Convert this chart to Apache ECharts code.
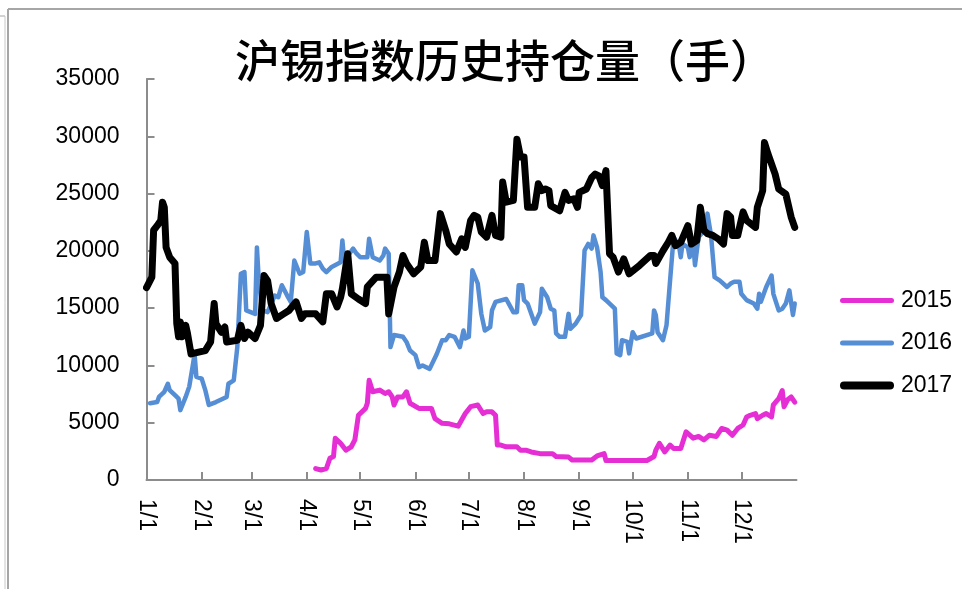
<!DOCTYPE html>
<html>
<head>
<meta charset="utf-8">
<script src="https://cdn.jsdelivr.net/npm/echarts@6/dist/echarts.min.js"></script>
<style>
  html, body { margin: 0; padding: 0; background: #fff; }
  #chart { width: 962px; height: 589px; }
</style>
</head>
<body>
<div id="chart"></div>
<script>
// day of year (1/1 = 0) and open interest
var monthStarts = [0, 31, 59, 90, 120, 151, 181, 212, 243, 273, 304, 334];
var monthLabels = ["1/1","2/1","3/1","4/1","5/1","6/1","7/1","8/1","9/1","10/1","11/1","12/1"];
var yTicks = [0, 5000, 10000, 15000, 20000, 25000, 30000, 35000];

var days2015 = [95,98,101,103,105,106,109,112,115,117,119,123,124,125,127,131,134,136,138,139,141,144,146,148,153,160,162,166,170,175,179,182,183,186,189,191,194,196,197,199,202,208,210,213,216,221,228,230,237,239,250,253,257,258,281,285,286,288,291,294,296,300,303,307,310,313,316,320,323,326,329,332,335,337,339,342,343,346,348,351,352,355,357,358,360,362,364];
var vals2015 = [1000,870,1000,1900,2050,3650,3200,2600,2900,3500,5650,6250,6700,8700,7700,7850,7550,7700,7250,6550,7250,7250,7700,6700,6250,6250,5350,4950,4900,4700,5800,6400,6550,6550,5800,5950,5950,5650,3050,3050,2900,2900,2600,2600,2450,2300,2300,2050,2000,1750,1750,2100,2300,1700,1700,2050,2600,3200,2450,3050,2750,2750,4200,3650,3800,3500,3900,3800,4500,4350,3900,4500,4800,5500,5650,5800,5350,5650,5800,5500,6550,7100,7800,6400,7000,7250,6800];

var days2016 = [2,6,7,10,12,13,16,18,19,22,24,26,27,28,31,33,35,39,45,46,49,51,53,55,56,61,62,63,65,68,72,74,76,79,81,83,86,88,90,92,95,97,99,101,104,109,110,111,116,118,120,124,125,127,131,133,134,136,137,139,140,144,146,148,151,153,155,159,163,166,168,170,173,176,178,179,181,183,186,188,190,193,194,196,197,202,206,208,209,211,212,214,218,221,222,225,227,229,230,232,235,237,238,241,244,246,248,250,251,253,255,256,258,263,264,266,267,270,271,273,275,284,285,286,287,290,292,293,294,296,299,300,301,304,305,307,308,310,314,315,317,319,322,326,328,330,333,334,337,341,343,344,345,348,351,352,355,357,359,361,363,364];
var vals2016 = [6700,6800,7250,7700,8400,7850,7400,7100,6100,7250,8150,10000,11000,9000,8850,7850,6550,6800,7250,8400,8700,11600,18000,18150,14800,14500,20300,17550,14800,14650,16100,15950,17000,16100,15550,19150,18000,18150,21650,18900,18900,19000,18450,18150,18600,19000,20900,19150,20200,19750,19450,19450,21050,19450,19150,19600,20200,19750,11600,12650,12500,12500,12050,11300,10900,9850,10000,9700,11000,12200,12200,12650,12500,11600,13050,12350,12500,18300,17150,14500,13050,13350,14800,15550,15700,15800,14650,14650,17000,17000,15700,15400,13650,14650,16700,15950,14950,14800,12800,12500,12500,14500,13200,13650,14400,20050,20600,20200,21350,20300,18150,15950,15700,14950,11050,10900,12200,12050,11050,12900,12350,12800,14800,14400,12900,12200,13500,13500,17400,21200,20450,19450,20600,20300,19450,20600,18750,21200,21900,23250,21350,17700,17400,16850,17150,17300,17300,16250,15700,15400,14950,16250,15550,16850,17850,16250,14800,14950,15400,16550,14400,15400];

var days2017 = [0,3,4,6,8,9,10,11,13,16,17,18,19,20,22,23,25,33,36,38,39,42,44,45,51,53,55,57,61,64,66,68,70,73,77,80,84,87,89,95,99,101,104,107,109,110,113,115,119,123,124,129,135,136,139,142,144,146,150,154,156,158,162,165,168,170,174,177,179,182,184,186,188,191,194,196,199,200,202,206,208,210,212,214,218,220,222,224,226,227,232,235,237,240,242,243,247,250,252,254,256,258,260,262,265,268,271,277,283,285,286,290,293,295,297,300,304,306,309,311,313,315,318,321,324,326,328,329,332,335,337,342,343,346,347,349,353,355,359,362,364];
var vals2017 = [16800,17700,21800,22200,22650,24250,23800,20300,19450,18900,13650,12500,13800,12500,13500,12800,11000,11300,12050,15400,13650,12900,13350,12050,12200,13500,12350,12900,12350,13500,17850,17400,15400,14100,14500,14800,15550,14100,14500,14500,13800,16250,16250,15100,15950,16700,19750,16250,15800,15400,16850,17700,17700,14500,16850,18150,19600,18900,18000,18600,20750,19150,19150,23250,21800,20600,19900,21050,20300,22650,23100,22950,21650,21200,23100,21350,21200,26000,24250,24400,29750,28200,28200,23800,23800,25850,25250,25400,25250,23950,23500,25100,24400,24550,23800,25100,25400,26400,26700,26550,25700,27000,19750,19450,18150,19300,18000,18750,19600,19600,18900,20000,20750,21350,20450,20750,22200,20600,20900,23800,21800,21500,21350,21050,20600,23250,22950,21350,21350,23400,22650,22050,23800,25250,29450,28450,26700,25400,24950,22950,22050];

function pairs(days, vals) {
    var out = [];
    for (var i = 0; i < days.length; i++) out.push([days[i], vals[i]]);
    return out;
}

// rounded bar used as the legend key, h = stroke thickness
function barIcon(h) {
    var r = h / 2;
    return "path://M" + r + ",0 L" + (54 - r) + ",0 A" + r + "," + r + " 0 0 1 " + (54 - r) + "," + h +
        " L" + r + "," + h + " A" + r + "," + r + " 0 0 1 " + r + ",0 Z";
}

var labelFont = "Liberation Sans";
var axisColor = "#8c8c8c";
var c2015 = "#e52fd4", c2016 = "#558ed5", c2017 = "#000000";

var chart = echarts.init(document.getElementById("chart"));

var option = {
    backgroundColor: "#fff",
    animation: false,
    title: {
        text: "沪锡指数历史持仓量（手）",
        left: 500,
        textAlign: "center",
        top: 33,
        textStyle: {
            fontFamily: "Noto Sans CJK SC",
            fontSize: 45,
            fontWeight: 500,
            color: "#000"
        }
    },
    graphic: [
        { type: "line", shape: { x1: 8, y1: 9, x2: 962, y2: 9 }, style: { stroke: "#a6a6a6", lineWidth: 2 } },
        { type: "line", shape: { x1: 8, y1: 9, x2: 8, y2: 589 }, style: { stroke: "#a6a6a6", lineWidth: 2 } },
        { type: "line", shape: { x1: 0, y1: 16, x2: 5, y2: 16 }, style: { stroke: "#a6a6a6", lineWidth: 1 } },
        { type: "line", shape: { x1: 5, y1: 16, x2: 5, y2: 589 }, style: { stroke: "#c8c8c8", lineWidth: 1 } }
    ],
    legend: {
        orient: "vertical",
        left: 835,
        top: 284,
        itemWidth: 54,
        itemHeight: 12,
        itemGap: 19.5,
        symbolKeepAspect: true,
        textStyle: { fontFamily: labelFont, fontSize: 23, color: "#000", padding: [0, 0, 0, 2] },
        data: [
            { name: "2015", icon: barIcon(5), itemStyle: { color: c2015 } },
            { name: "2016", icon: barIcon(5), itemStyle: { color: c2016 } },
            { name: "2017", icon: barIcon(8), itemStyle: { color: c2017 } }
        ]
    },
    grid: {
        left: 146.5,
        right: 165.5,
        top: 79,
        bottom: 109,
        containLabel: false
    },
    xAxis: {
        type: "value",
        min: 0,
        max: 365,
        splitLine: { show: false },
        axisLine: { lineStyle: { color: axisColor, width: 2 } },
        axisTick: {
            inside: true,
            length: 8,
            customValues: monthStarts,
            lineStyle: { color: axisColor, width: 2 }
        },
        axisLabel: {
            customValues: monthStarts,
            rotate: -90,
            margin: 19,
            fontFamily: labelFont,
            fontSize: 23,
            color: "#000",
            formatter: function (v) {
                var i = monthStarts.indexOf(v);
                return i >= 0 ? monthLabels[i] : "";
            }
        }
    },
    yAxis: {
        type: "value",
        min: 0,
        max: 35000,
        interval: 5000,
        splitLine: { show: false },
        axisLine: { show: true, lineStyle: { color: axisColor, width: 2 } },
        axisTick: { show: true, inside: true, length: 8, lineStyle: { color: axisColor, width: 2 } },
        axisLabel: {
            margin: 27,
            fontFamily: labelFont,
            fontSize: 23,
            color: "#000",
            customValues: yTicks,
            formatter: function (v) { return String(v); }
        }
    },
    series: [
        {
            name: "2015",
            type: "line",
            symbol: "none",
            data: pairs(days2015, vals2015),
            lineStyle: { color: c2015, width: 5, join: "round", cap: "round" },
            itemStyle: { color: c2015 },
            z: 3
        },
        {
            name: "2016",
            type: "line",
            symbol: "none",
            data: pairs(days2016, vals2016),
            lineStyle: { color: c2016, width: 4.5, join: "round", cap: "round" },
            itemStyle: { color: c2016 },
            z: 2
        },
        {
            name: "2017",
            type: "line",
            symbol: "none",
            data: pairs(days2017, vals2017),
            lineStyle: { color: c2017, width: 7, join: "round", cap: "round" },
            itemStyle: { color: c2017 },
            z: 4
        }
    ]
};

chart.setOption(option);
</script>
</body>
</html>
